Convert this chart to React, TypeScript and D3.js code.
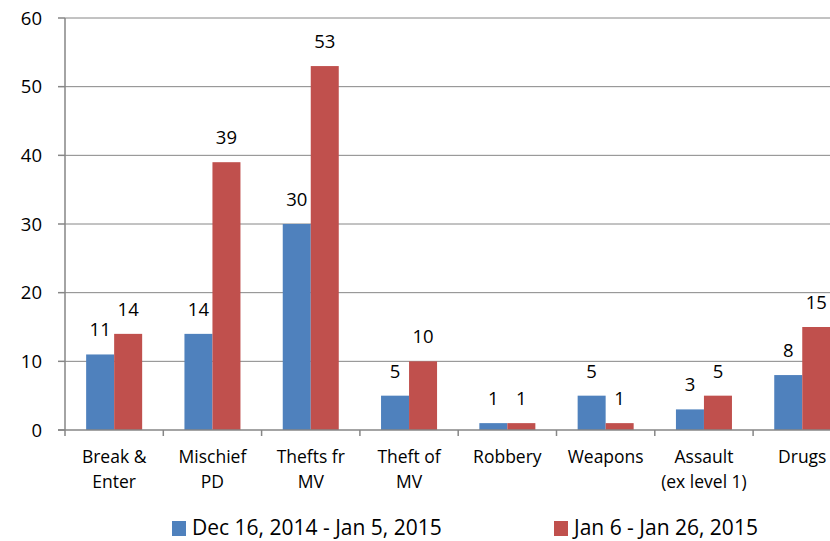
import React, { useEffect, useRef } from 'react';
import * as d3 from 'd3';

const categories = [
  ['Break &', 'Enter'],
  ['Mischief', 'PD'],
  ['Thefts fr', 'MV'],
  ['Theft of', 'MV'],
  ['Robbery'],
  ['Weapons'],
  ['Assault', '(ex level 1)'],
  ['Drugs'],
];
const seriesNames = ['Dec 16, 2014 - Jan 5, 2015', 'Jan 6 - Jan 26, 2015'];
const decJan = [11, 14, 30, 5, 1, 5, 3, 8];
const janJan = [14, 39, 53, 10, 1, 1, 5, 15];
const yTicks = [0, 10, 20, 30, 40, 50, 60];
const colors = ['#4F81BD', '#C0504D'];

const App = (): React.ReactElement => {
  const ref = useRef<SVGSVGElement>(null);

  useEffect(() => {
    if (!ref.current) return;
    const width = 830;
    const left = 65;
    const step = 98.3;
    const font = "'Open Sans', sans-serif";

    const svg = d3.select(ref.current);
    svg.selectAll('*').remove();

    const keys = categories.map((c) => c.join(' '));
    const x = d3.scaleBand<string>().domain(keys).range([left, left + step * keys.length]).padding(0);
    const inner = d3.scaleBand<string>().domain(['a', 'b']).range([0, x.bandwidth()]).paddingInner(0).paddingOuter(0.755);
    const y = d3.scaleLinear().domain([0, 60]).range([430, 18]);

    // gridlines
    svg
      .append('g')
      .selectAll('line')
      .data(yTicks.filter((t) => t > 0))
      .join('line')
      .attr('x1', left)
      .attr('x2', width)
      .attr('y1', (d) => y(d))
      .attr('y2', (d) => y(d))
      .attr('stroke', '#868686')
      .attr('stroke-width', 1);

    // bars + data labels
    const series = [decJan, janJan];
    series.forEach((vals, si) => {
      const key = si ? 'b' : 'a';
      svg
        .append('g')
        .selectAll('rect')
        .data(vals)
        .join('rect')
        .attr('x', (_, i) => (x(keys[i]) as number) + (inner(key) as number))
        .attr('y', (d) => y(d))
        .attr('width', inner.bandwidth())
        .attr('height', (d) => y(0) - y(d))
        .attr('fill', colors[si]);

      svg
        .append('g')
        .selectAll('text')
        .data(vals)
        .join('text')
        .attr('x', (_, i) => (x(keys[i]) as number) + (inner(key) as number) + inner.bandwidth() / 2)
        .attr('y', (d) => y(d) - 18)
        .attr('text-anchor', 'middle')
        .attr('font-family', font)
        .attr('font-size', 18.5)
        .attr('fill', '#000')
        .text((d) => d);
    });

    // axes
    const axisColor = '#868686';
    svg
      .append('line')
      .attr('x1', left)
      .attr('x2', left)
      .attr('y1', y(60))
      .attr('y2', y(0) + 6)
      .attr('stroke', axisColor)
      .attr('stroke-width', 1.5);
    svg
      .append('line')
      .attr('x1', left - 7)
      .attr('x2', width)
      .attr('y1', y(0))
      .attr('y2', y(0))
      .attr('stroke', axisColor)
      .attr('stroke-width', 1.5);

    svg
      .append('g')
      .selectAll('line')
      .data(yTicks)
      .join('line')
      .attr('x1', left - 7)
      .attr('x2', left)
      .attr('y1', (d) => y(d))
      .attr('y2', (d) => y(d))
      .attr('stroke', axisColor)
      .attr('stroke-width', 1.5);

    svg
      .append('g')
      .selectAll('line')
      .data(keys.slice(1))
      .join('line')
      .attr('x1', (d) => x(d) as number)
      .attr('x2', (d) => x(d) as number)
      .attr('y1', y(0))
      .attr('y2', y(0) + 6)
      .attr('stroke', axisColor)
      .attr('stroke-width', 1.5);

    svg
      .append('g')
      .selectAll('text')
      .data(yTicks)
      .join('text')
      .attr('x', 42)
      .attr('y', (d) => y(d))
      .attr('dy', '0.36em')
      .attr('text-anchor', 'end')
      .attr('font-family', font)
      .attr('font-size', 18.5)
      .text((d) => d);

    // category labels
    const cat = svg
      .append('g')
      .selectAll('text')
      .data(categories)
      .join('text')
      .attr('x', (_, i) => (x(keys[i]) as number) + x.bandwidth() / 2)
      .attr('y', 463)
      .attr('text-anchor', 'middle')
      .attr('font-family', font)
      .attr('font-size', 17.5);
    cat
      .selectAll('tspan')
      .data((d) => d)
      .join('tspan')
      .attr('x', function () {
        return d3.select((this as SVGTSpanElement).parentNode as SVGTextElement).attr('x');
      })
      .attr('dy', (_, i) => (i === 0 ? 0 : 25))
      .text((d) => d);

    // legend
    const legendX = [172, 554];
    seriesNames.forEach((name, i) => {
      svg
        .append('rect')
        .attr('x', legendX[i])
        .attr('y', 521)
        .attr('width', 14)
        .attr('height', 15)
        .attr('fill', colors[i]);
      svg
        .append('text')
        .attr('x', legendX[i] + 20)
        .attr('y', 535)
        .attr('font-family', font)
        .attr('font-size', 21)
        .text(name);
    });
  }, []);

  return (
    <svg
      ref={ref}
      width={830}
      height={541}
      style={{ position: 'absolute', left: 0, top: 0, background: '#fff' }}
    />
  );
};

export default App;
